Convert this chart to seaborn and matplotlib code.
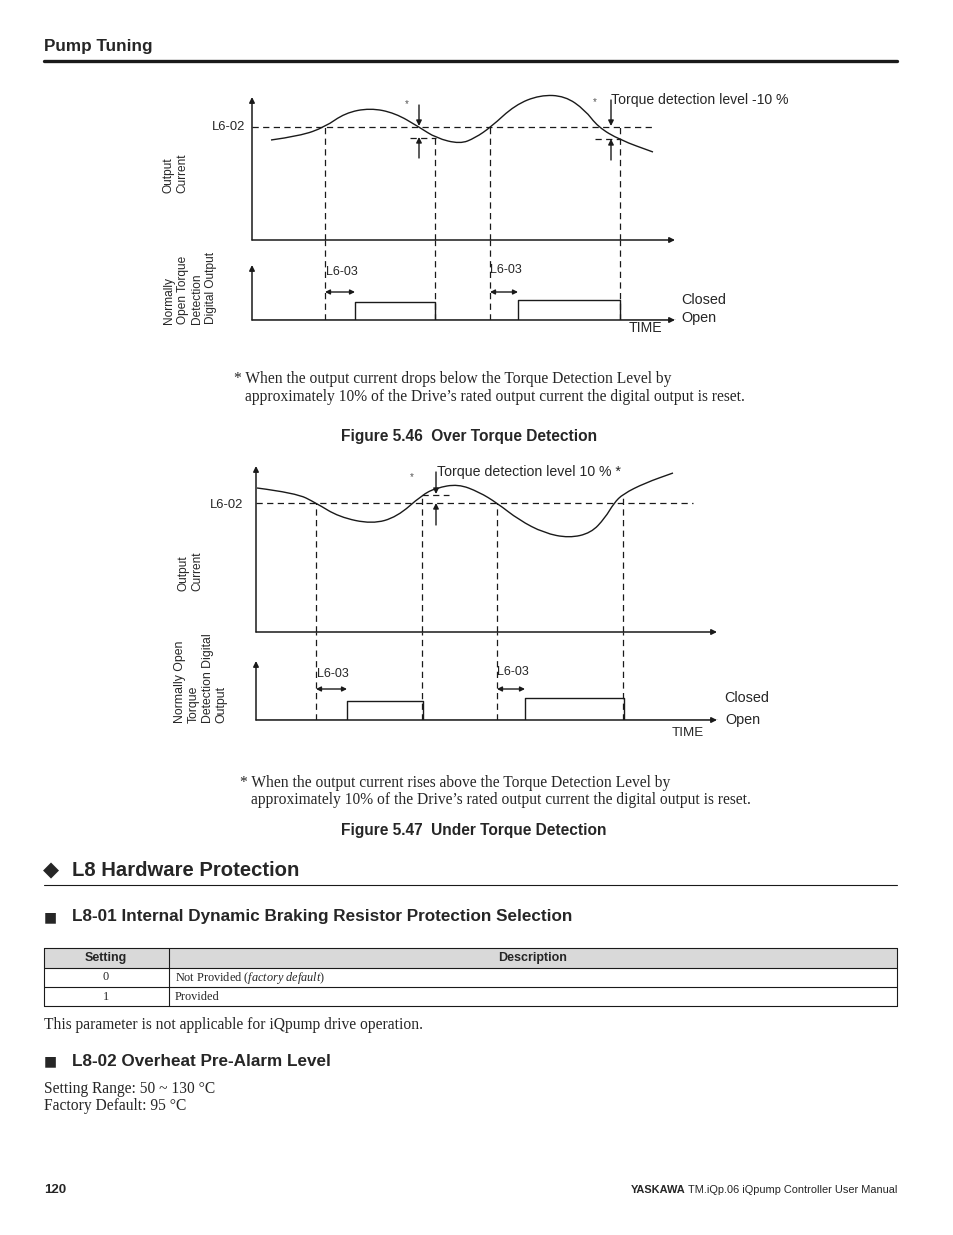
import numpy as np
import pandas as pd
import seaborn as sns
import matplotlib.pyplot as plt
from matplotlib.path import Path
from matplotlib.patches import PathPatch, Rectangle

sns.set_theme(style='white')
plt.rcParams['font.family'] = ['Liberation Sans', 'DejaVu Sans']
plt.rcParams['mathtext.fontset'] = 'custom'
plt.rcParams['mathtext.rm'] = 'Liberation Serif'
plt.rcParams['mathtext.it'] = 'Liberation Serif:italic'
SERIF = ['Liberation Serif', 'DejaVu Serif']

# ---- data (time / current in diagram units) ----
# Figure 5.46 Over Torque Detection
over_t = [19, 48, 73, 93, 118, 143, 167, 184, 208, 223, 239, 263, 288, 313, 333, 346, 368, 401]
over_i = [100, 104, 113, 127, 132, 127, 113, 102, 96, 102, 113, 135, 145, 144, 130, 113, 100, 88]
over_level = 113
over_edges = [73, 183, 238, 368]
over_edge_top = [113, 102, 113, 113]
over_pulse_t = [0, 103, 183, 266, 368, 423]
over_pulse_v = [0, 18, 0, 20, 0, 0]

# Figure 5.47 Under Torque Detection
under_t = [1, 40, 60, 83, 116, 141, 166, 180, 202, 223, 241, 263, 288, 313, 335, 349, 358, 367, 389, 417]
under_i = [144, 139, 129, 115, 108, 115, 137, 144, 148, 140, 129, 112, 99, 94, 99, 114, 129, 138, 149, 159]
under_level = 129
under_edges = [60, 166, 241, 367]
under_edge_top = [129, 137, 129, 137]
under_pulse_t = [0, 91, 167, 269, 368, 461]
under_pulse_v = [0, 19, 0, 22, 0, 0]

# table
settings = ['0', '1']
descriptions = ['Not Provided ($\\it{factory\\ default}$)', 'Provided']

W, H = 954, 1235
fig = plt.figure(figsize=(W / 100, H / 100), dpi=100)
page = fig.add_axes([0, 0, 1, 1])
page.set_xlim(0, W)
page.set_ylim(H, 0)
page.axis('off')

DASH = (0, (5, 3.5))


def px_axes(l, t, r, b):
    ax = fig.add_axes([l / W, 1 - b / H, (r - l) / W, (b - t) / H])
    ax.set_xlim(0, r - l)
    ax.set_ylim(0, b - t)
    ax.axis('off')
    return ax


def arrow(ax, tail, tip, style='-|>', lw=1.0, ms=8):
    ax.annotate('', xy=tip, xytext=tail, annotation_clip=False,
                arrowprops=dict(arrowstyle=style, color='k', lw=lw,
                                mutation_scale=ms, shrinkA=0, shrinkB=0))


def smooth(ax, t, v):
    pts = list(zip(t, v))
    verts, codes = [pts[0]], [Path.MOVETO]
    for k in range(1, len(pts) - 1):
        mid = ((pts[k][0] + pts[k + 1][0]) / 2, (pts[k][1] + pts[k + 1][1]) / 2)
        verts += [pts[k], mid]
        codes += [Path.CURVE3, Path.CURVE3]
    verts.append(pts[-1])
    codes.append(Path.LINETO)
    ax.add_patch(PathPatch(Path(verts, codes), fill=False, lw=1.0, color='k', clip_on=False))


def pulses(ax, t, v):
    df = pd.DataFrame({'t': t, 'v': v})
    sns.lineplot(data=df, x='t', y='v', drawstyle='steps-post', color='k', lw=1.0, ax=ax)
    ax.set_xlabel('')
    ax.set_ylabel('')


# ---- Figure 5.46 ----
a1 = px_axes(252, 90, 690, 240)
arrow(a1, (0, 0), (0, 143), lw=1.1)
arrow(a1, (0, 0), (423, 0), lw=1.1)
smooth(a1, over_t, over_i)
a1.hlines(over_level, 0, 403, color='k', lw=0.9, ls=DASH)
a1.hlines(102, 158, 184, color='k', lw=0.9, ls=DASH)
a1.hlines(101, 343, 368, color='k', lw=0.9, ls=DASH)
a1.vlines(over_edges, 0, over_edge_top, color='k', lw=0.9, ls=DASH)
arrow(a1, (167, 135), (167, 114))
arrow(a1, (167, 82), (167, 103))
arrow(a1, (359, 140), (359, 114))
arrow(a1, (359, 80), (359, 101))

b1 = px_axes(252, 240, 690, 320)
arrow(b1, (0, 0), (0, 55), lw=1.1)
arrow(b1, (0, 0), (423, 0), lw=1.1)
b1.vlines(over_edges, 0, 80, color='k', lw=0.9, ls=DASH)
pulses(b1, over_pulse_t, over_pulse_v)
b1.set_xlim(0, 438)
b1.set_ylim(0, 80)
b1.axis('off')
arrow(b1, (73, 28), (103, 28), style='<|-|>', ms=7)
arrow(b1, (238, 28), (266, 28), style='<|-|>', ms=7)

# ---- Figure 5.47 ----
a2 = px_axes(256, 460, 730, 632)
arrow(a2, (0, 0), (0, 166), lw=1.1)
arrow(a2, (0, 0), (461, 0), lw=1.1)
smooth(a2, under_t, under_i)
a2.hlines(under_level, 0, 437, color='k', lw=0.9, ls=DASH)
a2.hlines(137, 166, 193, color='k', lw=0.9, ls=DASH)
a2.vlines(under_edges, 0, under_edge_top, color='k', lw=0.9, ls=DASH)
arrow(a2, (180, 160), (180, 138))
arrow(a2, (180, 107), (180, 129))

b2 = px_axes(256, 632, 730, 720)
arrow(b2, (0, 0), (0, 59), lw=1.1)
arrow(b2, (0, 0), (461, 0), lw=1.1)
b2.vlines(under_edges, 0, 88, color='k', lw=0.9, ls=DASH)
pulses(b2, under_pulse_t, under_pulse_v)
b2.set_xlim(0, 474)
b2.set_ylim(0, 88)
b2.axis('off')
arrow(b2, (60, 31), (91, 31), style='<|-|>', ms=7)
arrow(b2, (241, 31), (269, 31), style='<|-|>', ms=7)

# ---- diagram labels (page pixel coords) ----
page.text(245, 127, 'L6-02', ha='right', va='center', fontsize=9.4)
page.text(175, 173, 'Output\nCurrent', ha='center', va='center', rotation=90, fontsize=8.6,
          multialignment='left')
page.text(190, 288, 'Normally\nOpen Torque\nDetection\nDigital Output', ha='center', va='center',
          rotation=90, fontsize=8.6, multialignment='left')
page.text(407, 104, '*', ha='center', va='center', fontsize=7, color='#555555')
page.text(595, 102, '*', ha='center', va='center', fontsize=7, color='#555555')
page.text(611, 100, 'Torque detection level -10 %', ha='left', va='center', fontsize=10.1)
page.text(326, 272, 'L6-03', ha='left', va='center', fontsize=9)
page.text(490, 270, 'L6-03', ha='left', va='center', fontsize=9)
page.text(681, 300, 'Closed', ha='left', va='center', fontsize=10.4)
page.text(681, 318, 'Open', ha='left', va='center', fontsize=10.4)
page.text(629, 328, 'TIME', ha='left', va='center', fontsize=10.2)

page.text(243, 505, 'L6-02', ha='right', va='center', fontsize=9.4)
page.text(190, 571, 'Output\nCurrent', ha='center', va='center', rotation=90, fontsize=8.6,
          multialignment='left')
page.text(201, 678, 'Normally Open\nTorque\nDetection Digital\nOutput', ha='center', va='center',
          rotation=90, fontsize=8.8, multialignment='left')
page.text(412, 477, '*', ha='center', va='center', fontsize=7, color='#555555')
page.text(437, 472, 'Torque detection level 10 % *', ha='left', va='center', fontsize=10.2)
page.text(317, 674, 'L6-03', ha='left', va='center', fontsize=9)
page.text(497, 672, 'L6-03', ha='left', va='center', fontsize=9)
page.text(724, 698, 'Closed', ha='left', va='center', fontsize=10.4)
page.text(725, 720, 'Open', ha='left', va='center', fontsize=10.4)
page.text(672, 733, 'TIME', ha='left', va='center', fontsize=9.6)

# ---- page text ----
page.text(44, 47, 'Pump Tuning', fontsize=12.3, fontweight='bold', va='center')
page.plot([44, 897], [61, 61], color='k', lw=2.4)

page.text(234, 379, '* When the output current drops below the Torque Detection Level by',
          family=SERIF, fontsize=11.2, va='center')
page.text(245, 397, 'approximately 10% of the Drive\u2019s rated output current the digital output is reset.',
          family=SERIF, fontsize=11.2, va='center')
page.text(341, 436, 'Figure 5.46  Over Torque Detection', fontsize=11.2, fontweight='bold', va='center')

page.text(240, 783, '* When the output current rises above the Torque Detection Level by',
          family=SERIF, fontsize=11.2, va='center')
page.text(251, 800, 'approximately 10% of the Drive\u2019s rated output current the digital output is reset.',
          family=SERIF, fontsize=11.2, va='center')
page.text(341, 830, 'Figure 5.47  Under Torque Detection', fontsize=11.2, fontweight='bold', va='center')

page.text(43, 870, '\u25c6', fontsize=15, va='center', family=['DejaVu Sans'])
page.text(72, 870, 'L8 Hardware Protection', fontsize=14.6, fontweight='bold', va='center')
page.plot([44, 897], [885, 885], color='k', lw=0.8)

page.text(44, 917, '\u25a0', fontsize=10, va='center', family=['DejaVu Sans'])
page.text(72, 917, 'L8-01 Internal Dynamic Braking Resistor Protection Selection',
          fontsize=12.3, fontweight='bold', va='center')

# table
rows_y = [948, 968, 987, 1006]
page.add_patch(Rectangle((44, 948), 853, 20, facecolor='#d9d9d9', edgecolor='none'))
for y in rows_y:
    page.plot([44, 897], [y, y], color='k', lw=0.8)
for x in [44, 169, 897]:
    page.plot([x, x], [948, 1006], color='k', lw=0.8)
page.text(106, 958, 'Setting', ha='center', va='center', fontsize=9, fontweight='bold')
page.text(533, 958, 'Description', ha='center', va='center', fontsize=9, fontweight='bold')
for k, (s, d) in enumerate(zip(settings, descriptions)):
    yc = (rows_y[k + 1] + rows_y[k + 2]) / 2
    page.text(106, yc, s, ha='center', va='center', fontsize=8.8, family=SERIF)
    page.text(175, yc, d, ha='left', va='center', fontsize=8.8, family=SERIF)

page.text(44, 1025, 'This parameter is not applicable for iQpump drive operation.',
          family=SERIF, fontsize=11.2, va='center')

page.text(44, 1061, '\u25a0', fontsize=10, va='center', family=['DejaVu Sans'])
page.text(72, 1061, 'L8-02 Overheat Pre-Alarm Level', fontsize=12.3, fontweight='bold', va='center')
page.text(44, 1089, 'Setting Range: 50 ~ 130 \u00b0C', family=SERIF, fontsize=11.2, va='center')
page.text(44, 1106, 'Factory Default: 95 \u00b0C', family=SERIF, fontsize=11.2, va='center')

page.text(44, 1190, '120', fontsize=9.5, fontweight='bold', va='center')
page.text(897, 1190, 'TM.iQp.06 iQpump Controller User Manual', ha='right', va='center', fontsize=7.9)
page.text(631, 1190, 'YASKAWA', ha='left', va='center', fontsize=7.9, fontweight='bold')

fig.savefig('out.png', dpi=100)
